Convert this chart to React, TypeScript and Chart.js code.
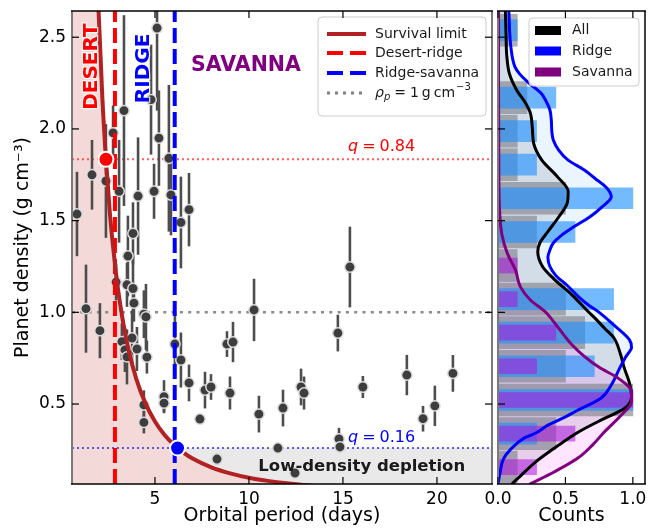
import React, { useEffect, useRef } from "react";
import { Chart, registerables } from "chart.js";

Chart.register(...registerables);

const FONT = "'DejaVu Sans', 'Liberation Sans', sans-serif";

// ---------------- Main panel data ----------------
const period = [0.85, 1.65, 2.39, 2.77, 3.09, 3.35, 4.10, 3.83, 3.56, 4.95, 5.11, 4.79, 5.21, 5.74, 5.85, 6.38, 6.81, 2.93, 3.51, 3.83, 3.88, 4.41, 4.52, 2.07, 1.33, 3.24, 3.78, 4.04, 3.40, 3.51, 4.57, 6.06, 6.38, 6.81, 5.48, 5.48, 4.41, 4.41, 7.39, 7.66, 7.98, 8.99, 8.83, 9.15, 10.27, 10.53, 11.81, 11.54, 12.45, 8.30, 12.77, 12.93, 14.73, 15.37, 14.79, 14.84, 16.06, 18.40, 19.26, 19.89, 20.85];
const density = [1.536, 1.75, 1.716, 1.978, 1.66, 2.10, 1.634, 1.43, 1.307, 1.66, 2.55, 2.16, 1.95, 1.84, 1.64, 1.49, 1.56, 1.165, 1.15, 1.13, 1.05, 0.99, 0.975, 0.90, 1.02, 0.84, 0.86, 0.80, 0.795, 0.757, 0.756, 0.827, 0.74, 0.615, 0.54, 0.505, 0.495, 0.40, 0.418, 0.576, 0.593, 0.56, 0.827, 0.838, 1.013, 0.445, 0.478, 0.26, 0.124, 0.20, 0.593, 0.56, 0.887, 1.247, 0.31, 0.266, 0.593, 0.658, 0.42, 0.49, 0.667];
const densityErr = [0.23, 0.19, 0.31, 0.15, 0.28, 0.52, 0.32, 0.17, 0.22, 0.15, 0.45, 0.3, 0.26, 0.4, 0.22, 0.25, 0.2, 0.1, 0.12, 0.18, 0.1, 0.13, 0.18, 0.15, 0.24, 0.1, 0.15, 0.12, 0.12, 0.15, 0.09, 0.17, 0.15, 0.1, 0.09, 0.05, 0.08, 0.06, 0, 0.1, 0.07, 0.09, 0.07, 0.11, 0.17, 0.1, 0.1, 0, 0, 0.03, 0.1, 0.09, 0.1, 0.22, 0.06, 0.02, 0.06, 0.11, 0.07, 0.11, 0.1];

const survivalPeriod = [0.6, 1.0, 1.4, 1.7, 1.9, 2.0, 2.2, 2.4, 2.6, 2.8, 3.0, 3.3, 3.6, 4.0, 4.5, 5.0, 5.5, 6.0, 6.5, 7.0, 8.0, 9.0, 10, 11, 12, 13, 15, 18, 23];
const survivalDensity = [31, 10.9, 5.48, 3.68, 2.93, 2.64, 2.17, 1.82, 1.54, 1.33, 1.15, 0.948, 0.793, 0.639, 0.502, 0.405, 0.333, 0.279, 0.237, 0.203, 0.155, 0.122, 0.098, 0.081, 0.0675, 0.057, 0.043, 0.029, 0.018];

const desertRidgePeriod = 2.87;
const ridgeSavannaPeriod = 6.05;
const qHigh = { period: 2.39, density: 1.834, label: "0.84" };
const qLow = { period: 6.2, density: 0.26, label: "0.16" };
const unitDensity = 1.0;

const periodTicks = [5, 10, 15, 20];
const densityTicks = [0.5, 1.0, 1.5, 2.0, 2.5];
const countTicks = [0, 0.5, 1.0];

const P_MIN = 0.585, P_MAX = 22.93, RHO_MIN = 0.064, RHO_MAX = 2.643;
const C_MIN = 0, C_MAX = 1.09;

// ---------------- Histogram panel data ----------------
const binCenters = [0.156, 0.339, 0.522, 0.706, 0.889, 1.072, 1.255, 1.438, 1.622, 1.805, 1.988, 2.171, 2.354, 2.538];
const allHist = [0.143, 0.429, 1.0, 0.5, 0.643, 0.5, 0.143, 0.286, 0.5, 0.143, 0.143, 0.214, 0, 0.143];
const ridgeHist = [0, 0.286, 1.0, 0.714, 0.857, 0.857, 0, 0.571, 1.0, 0.286, 0.286, 0.429, 0, 0.143];
const savannaHist = [0.286, 0.571, 1.0, 0.286, 0.429, 0.143, 0.143, 0, 0, 0, 0, 0, 0, 0];

const kdeAllRho = [0.065, 0.1, 0.185, 0.276, 0.349, 0.422, 0.477, 0.54, 0.614, 0.7, 0.78, 0.86, 0.913, 0.96, 1.003, 1.094, 1.185, 1.25, 1.33, 1.378, 1.44, 1.52, 1.6, 1.66, 1.74, 1.83, 1.92, 2.0, 2.086, 2.14, 2.21, 2.3, 2.4, 2.5, 2.643];
const kdeAllVal = [0.105, 0.155, 0.28, 0.45, 0.6, 0.79, 0.94, 0.99, 0.975, 0.935, 0.905, 0.86, 0.79, 0.73, 0.67, 0.55, 0.41, 0.33, 0.295, 0.31, 0.37, 0.45, 0.515, 0.52, 0.44, 0.325, 0.265, 0.255, 0.24, 0.205, 0.14, 0.085, 0.065, 0.06, 0.055];

const kdeRidgeRho = [0.065, 0.124, 0.2, 0.25, 0.313, 0.342, 0.385, 0.43, 0.458, 0.53, 0.604, 0.7, 0.76, 0.81, 0.85, 0.93, 1.0, 1.04, 1.083, 1.149, 1.2, 1.25, 1.3, 1.34, 1.378, 1.42, 1.465, 1.52, 1.574, 1.63, 1.683, 1.73, 1.776, 1.83, 1.885, 1.94, 1.98, 2.05, 2.103, 2.16, 2.194, 2.25, 2.3, 2.34, 2.45, 2.643];
const kdeRidgeVal = [0.0, 0.015, 0.04, 0.09, 0.19, 0.28, 0.37, 0.5, 0.57, 0.76, 0.84, 0.905, 0.95, 0.99, 0.975, 0.86, 0.75, 0.67, 0.6, 0.51, 0.43, 0.385, 0.37, 0.385, 0.41, 0.47, 0.56, 0.68, 0.77, 0.84, 0.8, 0.72, 0.64, 0.52, 0.45, 0.41, 0.4, 0.395, 0.385, 0.35, 0.32, 0.23, 0.16, 0.125, 0.095, 0.08];

const kdeSavannaRho = [0.065, 0.131, 0.204, 0.276, 0.349, 0.44, 0.513, 0.567, 0.64, 0.7, 0.76, 0.822, 0.913, 1.003, 1.067, 1.14, 1.23, 1.32, 1.42, 1.55, 1.8, 2.2, 2.643];
const kdeSavannaVal = [0.24, 0.42, 0.59, 0.7, 0.79, 0.915, 0.99, 0.99, 0.893, 0.75, 0.64, 0.55, 0.45, 0.35, 0.24, 0.165, 0.13, 0.07, 0.03, 0.012, 0.006, 0.004, 0.004];

// ---------------- helpers ----------------
function roundRect(ctx: CanvasRenderingContext2D, x: number, y: number, w: number, h: number, r: number) {
  ctx.beginPath();
  ctx.moveTo(x + r, y);
  ctx.lineTo(x + w - r, y);
  ctx.quadraticCurveTo(x + w, y, x + w, y + r);
  ctx.lineTo(x + w, y + h - r);
  ctx.quadraticCurveTo(x + w, y + h, x + w - r, y + h);
  ctx.lineTo(x + r, y + h);
  ctx.quadraticCurveTo(x, y + h, x, y + h - r);
  ctx.lineTo(x, y + r);
  ctx.quadraticCurveTo(x, y, x + r, y);
  ctx.closePath();
}

function seg(ctx: CanvasRenderingContext2D, x1: number, y1: number, x2: number, y2: number) {
  ctx.beginPath();
  ctx.moveTo(x1, y1);
  ctx.lineTo(x2, y2);
  ctx.stroke();
}

function drawQLabel(ctx: CanvasRenderingContext2D, x: number, y: number, value: string, color: string) {
  ctx.fillStyle = color;
  ctx.textBaseline = "middle";
  ctx.textAlign = "left";
  ctx.font = `italic 16px ${FONT}`;
  ctx.fillText("q", x, y);
  let cx = x + ctx.measureText("q").width + 4;
  ctx.font = `16px ${FONT}`;
  ctx.fillText("=", cx, y);
  cx += ctx.measureText("=").width + 4;
  ctx.fillText(value, cx, y);
}

const PLANET_INDEX = 5;

const mainDecor = {
  id: "mainDecor",
  beforeDatasetDraw(chart: any, args: any) {
    if (args.index !== PLANET_INDEX) return;
    const { ctx, chartArea: ca } = chart;
    const xs = chart.scales.x, ys = chart.scales.y;
    ctx.save();
    ctx.beginPath();
    ctx.rect(ca.left, ca.top, ca.right - ca.left, ca.bottom - ca.top);
    ctx.clip();
    ctx.strokeStyle = "#4d4d4d";
    ctx.lineWidth = 2.6;
    ctx.lineCap = "butt";
    period.forEach((p, i) => {
      const e = densityErr[i];
      if (!e) return;
      const x = xs.getPixelForValue(p);
      seg(ctx, x, ys.getPixelForValue(density[i] - e), x, ys.getPixelForValue(density[i] + e));
    });
    ctx.restore();
  },
  afterDatasetsDraw(chart: any) {
    const { ctx, chartArea: ca } = chart;
    const xs = chart.scales.x, ys = chart.scales.y;
    ctx.save();
    const label = (text: string, px: number, py: number, color: string, size: number, rot: number) => {
      ctx.save();
      ctx.translate(xs.getPixelForValue(px), ys.getPixelForValue(py));
      ctx.rotate(rot);
      ctx.font = `bold ${size}px ${FONT}`;
      ctx.textAlign = "center";
      ctx.textBaseline = "middle";
      ctx.lineWidth = 2.5;
      ctx.strokeStyle = "rgba(255,255,255,0.8)";
      ctx.strokeText(text, 0, 0);
      ctx.fillStyle = color;
      ctx.fillText(text, 0, 0);
      ctx.restore();
    };
    label("DESERT", 1.65, 2.34, "#ff0000", 20, -Math.PI / 2);
    label("RIDGE", 4.41, 2.33, "#0000ff", 20, -Math.PI / 2);
    label("SAVANNA", 9.84, 2.343, "#800080", 20.5, 0);
    ctx.font = `bold 16.5px ${FONT}`;
    ctx.textAlign = "center";
    ctx.textBaseline = "middle";
    ctx.fillStyle = "#1a1a1a";
    ctx.fillText("Low-density depletion", xs.getPixelForValue(16.0), ys.getPixelForValue(0.157));

    drawQLabel(ctx, xs.getPixelForValue(15.27), ys.getPixelForValue(1.90), qHigh.label, "#ff0000");
    drawQLabel(ctx, xs.getPixelForValue(15.27), ys.getPixelForValue(0.315), qLow.label, "#0000ff");

    // Legend
    const bw = 168, bh = 99;
    const bx = ca.right - 6 - bw, by = ca.top + 6;
    roundRect(ctx, bx, by, bw, bh, 4);
    ctx.fillStyle = "rgba(255,255,255,0.85)";
    ctx.fill();
    ctx.strokeStyle = "#cccccc";
    ctx.lineWidth = 1;
    ctx.stroke();
    const rows = [17, 36, 56, 76];
    const sx1 = bx + 9, sx2 = bx + 48, tx = bx + 57;
    ctx.lineCap = "butt";
    ctx.lineWidth = 4;
    ctx.strokeStyle = "#b22222";
    ctx.setLineDash([]);
    seg(ctx, sx1, by + rows[0], sx2, by + rows[0]);
    ctx.setLineDash([16, 7]);
    ctx.strokeStyle = "#ff0000";
    seg(ctx, sx1, by + rows[1], sx2, by + rows[1]);
    ctx.strokeStyle = "#0000ff";
    seg(ctx, sx1, by + rows[2], sx2, by + rows[2]);
    ctx.setLineDash([3, 5]);
    ctx.lineWidth = 3;
    ctx.strokeStyle = "#808080";
    seg(ctx, sx1, by + rows[3], sx2, by + rows[3]);
    ctx.setLineDash([]);
    ctx.fillStyle = "#1a1a1a";
    ctx.textAlign = "left";
    ctx.textBaseline = "middle";
    ctx.font = `14px ${FONT}`;
    ctx.fillText("Survival limit", tx, by + rows[0]);
    ctx.fillText("Desert-ridge", tx, by + rows[1]);
    ctx.fillText("Ridge-savanna", tx, by + rows[2]);
    let cx = tx;
    const ry = by + rows[3];
    ctx.font = `italic 14px ${FONT}`;
    ctx.fillText("ρ", cx, ry);
    cx += ctx.measureText("ρ").width;
    ctx.font = `italic 10px ${FONT}`;
    ctx.fillText("p", cx, ry + 4);
    cx += ctx.measureText("p").width + 4;
    ctx.font = `14px ${FONT}`;
    ctx.fillText("=", cx, ry);
    cx += ctx.measureText("=").width + 4;
    ctx.fillText("1", cx, ry);
    cx += ctx.measureText("1").width + 3;
    ctx.fillText("g", cx, ry);
    cx += ctx.measureText("g").width + 3;
    ctx.fillText("cm", cx, ry);
    cx += ctx.measureText("cm").width + 1;
    ctx.font = `10px ${FONT}`;
    ctx.fillText("−3", cx, ry - 6);

    // Spines
    ctx.lineWidth = 2;
    ctx.strokeStyle = "#7a7a7a";
    seg(ctx, ca.left, ca.top, ca.left, ca.bottom);
    seg(ctx, ca.right, ca.top, ca.right, ca.bottom);
    ctx.lineWidth = 1.5;
    ctx.strokeStyle = "#000";
    seg(ctx, ca.left - 1, ca.top, ca.right + 1, ca.top);
    seg(ctx, ca.left - 1, ca.bottom, ca.right + 1, ca.bottom);
    // Ticks (inward)
    ctx.lineWidth = 1.2;
    periodTicks.forEach((v) => {
      const x = xs.getPixelForValue(v);
      seg(ctx, x, ca.bottom, x, ca.bottom - 7);
      seg(ctx, x, ca.top, x, ca.top + 7);
    });
    densityTicks.forEach((v) => {
      const y = ys.getPixelForValue(v);
      seg(ctx, ca.left, y, ca.left + 7, y);
      seg(ctx, ca.right, y, ca.right - 7, y);
    });
    ctx.restore();
  },
};

const histDecor = {
  id: "histDecor",
  afterDatasetsDraw(chart: any) {
    const { ctx, chartArea: ca } = chart;
    const xs = chart.scales.x, ys = chart.scales.y;
    ctx.save();
    const bw = 110, bh = 68;
    const bx = ca.right - 6 - bw, by = ca.top + 7;
    roundRect(ctx, bx, by, bw, bh, 4);
    ctx.fillStyle = "rgba(255,255,255,0.85)";
    ctx.fill();
    ctx.strokeStyle = "#cccccc";
    ctx.lineWidth = 1;
    ctx.stroke();
    const entries = [
      { t: "All", c: "#000000", y: 12.5 },
      { t: "Ridge", c: "#0000ff", y: 33 },
      { t: "Savanna", c: "#800080", y: 54 },
    ];
    ctx.font = `14px ${FONT}`;
    ctx.textAlign = "left";
    ctx.textBaseline = "middle";
    entries.forEach((e) => {
      ctx.fillStyle = e.c;
      ctx.fillRect(bx + 6, by + e.y - 4.5, 26, 9);
      ctx.fillStyle = "#1a1a1a";
      ctx.fillText(e.t, bx + 43, by + e.y);
    });
    ctx.lineWidth = 2;
    ctx.strokeStyle = "#7a7a7a";
    seg(ctx, ca.left, ca.top, ca.left, ca.bottom);
    ctx.lineWidth = 1.5;
    ctx.strokeStyle = "#000";
    seg(ctx, ca.right, ca.top, ca.right, ca.bottom);
    seg(ctx, ca.left - 1, ca.top, ca.right + 1, ca.top);
    seg(ctx, ca.left - 1, ca.bottom, ca.right + 1, ca.bottom);
    ctx.lineWidth = 1.2;
    countTicks.forEach((v) => {
      const x = xs.getPixelForValue(v);
      seg(ctx, x, ca.bottom, x, ca.bottom - 7);
      seg(ctx, x, ca.top, x, ca.top + 7);
    });
    densityTicks.forEach((v) => {
      const y = ys.getPixelForValue(v);
      seg(ctx, ca.left, y, ca.left + 7, y);
    });
    ctx.restore();
  },
};

function mainConfig(): any {
  const planets = period.map((p, i) => ({ x: p, y: density[i] }));
  const survival = survivalPeriod.map((p, i) => ({ x: p, y: survivalDensity[i] }));
  const hline = (y: number) => [{ x: P_MIN, y }, { x: P_MAX, y }];
  const vline = (x: number) => [{ x, y: RHO_MIN }, { x, y: RHO_MAX }];
  const none = "rgba(0,0,0,0)";
  const lineBase = { showLine: true, pointRadius: 0, fill: false, borderCapStyle: "butt" };
  return {
    type: "scatter",
    data: {
      datasets: [
        { ...lineBase, data: [{ x: qLow.period, y: qLow.density }, { x: P_MAX, y: qLow.density }], borderColor: none, borderWidth: 0, fill: "start", backgroundColor: "#e9e9e9", order: 20 },
        { ...lineBase, data: survival, borderColor: none, borderWidth: 0, fill: "start", backgroundColor: "#f3d9d7", cubicInterpolationMode: "monotone", order: 19 },
        { ...lineBase, data: hline(qHigh.density), borderColor: "rgba(255,40,40,0.75)", borderWidth: 2, borderDash: [2, 3], order: 15 },
        { ...lineBase, data: hline(qLow.density), borderColor: "rgba(40,40,255,0.75)", borderWidth: 2, borderDash: [2, 3], order: 15 },
        { ...lineBase, data: hline(unitDensity), borderColor: "#8a8a8a", borderWidth: 2.5, borderDash: [3, 5.3], order: 15 },
        { data: planets, showLine: false, pointRadius: 5.2, pointBackgroundColor: "#3d3d3d", pointBorderColor: "#dcdcdc", pointBorderWidth: 1.5, order: 10 },
        { ...lineBase, data: vline(desertRidgePeriod), borderColor: "#ff0000", borderWidth: 4, borderDash: [15, 6], order: 5 },
        { ...lineBase, data: vline(ridgeSavannaPeriod), borderColor: "#0000ff", borderWidth: 4, borderDash: [15, 6], order: 5 },
        { ...lineBase, data: survival, borderColor: "#b22222", borderWidth: 4, cubicInterpolationMode: "monotone", order: 3 },
        { data: [{ x: qHigh.period, y: qHigh.density }], pointRadius: 7.5, pointBackgroundColor: "#ff0000", pointBorderColor: "#ffffff", pointBorderWidth: 2, order: 1 },
        { data: [{ x: qLow.period, y: qLow.density }], pointRadius: 7.5, pointBackgroundColor: "#0000ff", pointBorderColor: "#ffffff", pointBorderWidth: 2, order: 1 },
      ],
    },
    options: {
      responsive: false,
      animation: false,
      events: [],
      layout: { padding: { left: 0, right: 156, top: 11, bottom: 0 } },
      plugins: { legend: { display: false }, tooltip: { enabled: false } },
      scales: {
        x: {
          type: "linear",
          position: "bottom",
          min: P_MIN,
          max: P_MAX,
          grid: { display: false, drawTicks: false },
          border: { display: false },
          afterBuildTicks: (s: any) => { s.ticks = periodTicks.map((v) => ({ value: v })); },
          afterFit: (s: any) => { s.height = 45; s.paddingLeft = 0; s.paddingRight = 0; },
          ticks: { font: { family: FONT, size: 17 }, color: "#000", padding: 5, maxRotation: 0, callback: (v: any) => String(v) },
          title: { display: true, text: "Orbital period (days)", font: { family: FONT, size: 19 }, color: "#000", padding: { top: 0, bottom: 1.5 } },
        },
        y: {
          type: "linear",
          position: "left",
          min: RHO_MIN,
          max: RHO_MAX,
          grid: { display: false, drawTicks: false },
          border: { display: false },
          afterBuildTicks: (s: any) => { s.ticks = densityTicks.map((v) => ({ value: v })); },
          afterFit: (s: any) => { s.width = 72; s.paddingTop = 0; s.paddingBottom = 0; },
          ticks: { font: { family: FONT, size: 17 }, color: "#000", padding: 6, callback: (v: any) => Number(v).toFixed(1) },
          title: { display: true, text: "Planet density (g cm⁻³)", font: { family: FONT, size: 19 }, color: "#000", padding: { top: 11.5, bottom: 0 } },
        },
      },
    },
    plugins: [mainDecor],
  };
}

function histConfig(): any {
  const pts = (rho: number[], val: number[]) => rho.map((r, i) => ({ x: val[i], y: r }));
  const bars = (vals: number[]) => binCenters.map((c, i) => ({ x: vals[i], y: c }));
  const none = "rgba(0,0,0,0)";
  const kdeBase = { type: "line", indexAxis: "y", pointRadius: 0, cubicInterpolationMode: "monotone", borderCapStyle: "round" };
  return {
    type: "bar",
    data: {
      datasets: [
        { ...kdeBase, data: pts(kdeRidgeRho, kdeRidgeVal), borderColor: none, borderWidth: 0, fill: "origin", backgroundColor: "rgba(30,144,255,0.09)", order: 30 },
        { ...kdeBase, data: pts(kdeAllRho, kdeAllVal), borderColor: none, borderWidth: 0, fill: "origin", backgroundColor: "rgba(90,100,115,0.16)", order: 29 },
        { ...kdeBase, data: pts(kdeSavannaRho, kdeSavannaVal), borderColor: none, borderWidth: 0, fill: "origin", backgroundColor: "rgba(255,0,255,0.10)", order: 28 },
        { type: "bar", data: bars(allHist), backgroundColor: "rgba(125,128,135,0.62)", barThickness: 32, grouped: false, borderWidth: 0, order: 20 },
        { type: "bar", data: bars(ridgeHist), backgroundColor: "rgba(30,144,255,0.62)", barThickness: 21, grouped: false, borderWidth: 0, order: 19 },
        { type: "bar", data: bars(savannaHist), backgroundColor: "rgba(170,20,220,0.55)", barThickness: 15, grouped: false, borderWidth: 0, order: 18 },
        { ...kdeBase, data: pts(kdeAllRho, kdeAllVal), borderColor: "#000000", borderWidth: 3, fill: false, order: 3 },
        { ...kdeBase, data: pts(kdeRidgeRho, kdeRidgeVal), borderColor: "#0000ff", borderWidth: 3, fill: false, order: 2 },
        { ...kdeBase, data: pts(kdeSavannaRho, kdeSavannaVal), borderColor: "#800080", borderWidth: 3, fill: false, order: 1 },
      ],
    },
    options: {
      indexAxis: "y",
      responsive: false,
      animation: false,
      events: [],
      layout: { padding: { left: 498, right: 3, top: 11, bottom: 0 } },
      plugins: { legend: { display: false }, tooltip: { enabled: false } },
      scales: {
        x: {
          type: "linear",
          position: "bottom",
          min: C_MIN,
          max: C_MAX,
          grid: { display: false, drawTicks: false },
          border: { display: false },
          afterBuildTicks: (s: any) => { s.ticks = countTicks.map((v) => ({ value: v })); },
          afterFit: (s: any) => { s.height = 45; s.paddingLeft = 0; s.paddingRight = 0; },
          ticks: { font: { family: FONT, size: 17 }, color: "#000", padding: 5, maxRotation: 0, callback: (v: any) => Number(v).toFixed(1) },
          title: { display: true, text: "Counts", font: { family: FONT, size: 19 }, color: "#000", padding: { top: 0, bottom: 1.5 } },
        },
        y: {
          type: "linear",
          min: RHO_MIN,
          max: RHO_MAX,
          offset: false,
          display: false,
        },
      },
    },
    plugins: [histDecor],
  };
}

export default function App() {
  const mainRef = useRef<HTMLCanvasElement>(null);
  const histRef = useRef<HTMLCanvasElement>(null);
  useEffect(() => {
    const c1 = new Chart(mainRef.current as HTMLCanvasElement, mainConfig());
    const c2 = new Chart(histRef.current as HTMLCanvasElement, histConfig());
    return () => {
      c1.destroy();
      c2.destroy();
    };
  }, []);
  return (
    <div style={{ position: "absolute", left: 0, top: 0, width: 648, height: 529, background: "#ffffff" }}>
      <canvas ref={mainRef} width={648} height={529} style={{ position: "absolute", left: 0, top: 0 }} />
      <canvas ref={histRef} width={648} height={529} style={{ position: "absolute", left: 0, top: 0 }} />
    </div>
  );
}
